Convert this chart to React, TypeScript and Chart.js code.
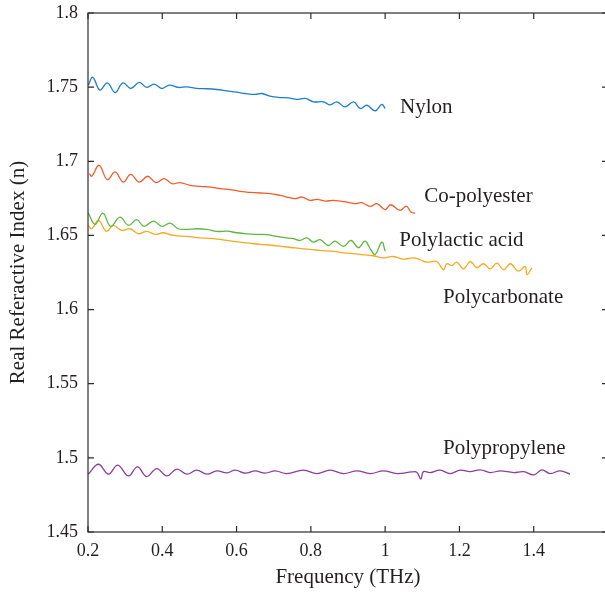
import React, { useEffect, useRef } from "react";
import { Chart, registerables } from "chart.js";

Chart.register(...registerables);

// ---------- data ----------
const nylonX = [0.201, 0.213, 0.232, 0.252, 0.273, 0.294, 0.315, 0.338, 0.358, 0.378, 0.399, 0.419, 0.443, 0.466, 0.493, 0.520, 0.547, 0.574, 0.601, 0.623, 0.650, 0.668, 0.690, 0.717, 0.740, 0.762, 0.785, 0.807, 0.834, 0.852, 0.870, 0.892, 0.915, 0.933, 0.951, 0.973, 0.991, 1.0];
const nylonY = [1.7514, 1.7566, 1.7480, 1.7529, 1.7464, 1.7529, 1.7491, 1.7532, 1.7498, 1.7520, 1.7491, 1.7514, 1.7498, 1.7502, 1.7491, 1.7489, 1.7484, 1.7475, 1.7466, 1.7457, 1.7451, 1.7457, 1.7439, 1.7430, 1.7428, 1.7417, 1.7424, 1.7401, 1.7401, 1.7380, 1.7401, 1.7367, 1.7401, 1.7356, 1.7378, 1.7340, 1.7383, 1.7356];

const copolyX = [0.2035, 0.210, 0.230, 0.252, 0.273, 0.295, 0.315, 0.338, 0.361, 0.383, 0.405, 0.426, 0.448, 0.475, 0.502, 0.529, 0.556, 0.583, 0.609, 0.636, 0.663, 0.690, 0.717, 0.735, 0.758, 0.776, 0.798, 0.816, 0.838, 0.861, 0.897, 0.919, 0.937, 0.960, 0.978, 1.0, 1.015, 1.040, 1.057, 1.070, 1.081];
const copolyY = [1.6917, 1.6899, 1.6973, 1.6876, 1.6928, 1.6860, 1.6912, 1.6860, 1.6899, 1.6856, 1.6883, 1.6849, 1.6856, 1.6838, 1.6831, 1.6826, 1.6816, 1.6809, 1.6797, 1.6791, 1.6786, 1.6782, 1.6770, 1.6759, 1.6748, 1.6759, 1.6736, 1.6743, 1.6732, 1.6736, 1.6725, 1.6714, 1.6721, 1.6696, 1.6714, 1.6674, 1.6707, 1.6669, 1.6698, 1.6657, 1.6651];

const plaX = [0.2008, 0.219, 0.240, 0.261, 0.286, 0.309, 0.331, 0.351, 0.376, 0.399, 0.421, 0.443, 0.466, 0.493, 0.520, 0.547, 0.574, 0.601, 0.628, 0.654, 0.681, 0.708, 0.735, 0.753, 0.771, 0.789, 0.807, 0.825, 0.847, 0.865, 0.888, 0.908, 0.928, 0.946, 0.960, 0.973, 0.991, 1.0];
const plaY = [1.6651, 1.6574, 1.6651, 1.6561, 1.6624, 1.6568, 1.6606, 1.6561, 1.6597, 1.6561, 1.6583, 1.6545, 1.6541, 1.6545, 1.6541, 1.6527, 1.6529, 1.6518, 1.6511, 1.6507, 1.6505, 1.6493, 1.6484, 1.6478, 1.6466, 1.6484, 1.6455, 1.6471, 1.6432, 1.6461, 1.6426, 1.6466, 1.6417, 1.6461, 1.6410, 1.6372, 1.6455, 1.6394];

const pcX = [0.2008, 0.210, 0.228, 0.250, 0.268, 0.291, 0.313, 0.336, 0.358, 0.381, 0.403, 0.430, 0.466, 0.502, 0.538, 0.574, 0.609, 0.645, 0.681, 0.717, 0.753, 0.789, 0.825, 0.861, 0.897, 0.933, 0.969, 0.995, 1.022, 1.049, 1.076, 1.094, 1.112, 1.139, 1.157, 1.166, 1.180, 1.193, 1.211, 1.229, 1.247, 1.265, 1.283, 1.301, 1.319, 1.337, 1.359, 1.377, 1.382, 1.395];
const pcY = [1.6568, 1.6545, 1.6601, 1.6527, 1.6568, 1.6534, 1.6545, 1.6511, 1.6527, 1.6507, 1.6518, 1.6500, 1.6493, 1.6484, 1.6478, 1.6466, 1.6455, 1.6444, 1.6437, 1.6428, 1.6417, 1.6407, 1.6399, 1.6392, 1.6380, 1.6372, 1.6363, 1.6349, 1.6358, 1.6340, 1.6349, 1.6336, 1.6320, 1.6324, 1.6268, 1.6309, 1.6297, 1.6320, 1.6275, 1.6324, 1.6282, 1.6309, 1.6275, 1.6313, 1.6268, 1.6309, 1.6259, 1.6291, 1.6235, 1.6282];

const ppX = [0.2008, 0.228, 0.255, 0.280, 0.309, 0.333, 0.358, 0.385, 0.412, 0.439, 0.466, 0.493, 0.520, 0.547, 0.574, 0.596, 0.623, 0.650, 0.677, 0.704, 0.735, 0.780, 0.816, 0.852, 0.888, 0.924, 0.960, 0.995, 1.032, 1.072, 1.086, 1.096, 1.103, 1.121, 1.148, 1.175, 1.202, 1.229, 1.256, 1.283, 1.310, 1.346, 1.373, 1.400, 1.422, 1.444, 1.471, 1.498];
const ppY = [1.4890, 1.4957, 1.4890, 1.4951, 1.4878, 1.4939, 1.4874, 1.4928, 1.4878, 1.4924, 1.4890, 1.4917, 1.4890, 1.4912, 1.4899, 1.4917, 1.4897, 1.4912, 1.4897, 1.4912, 1.4894, 1.4917, 1.4894, 1.4917, 1.4894, 1.4912, 1.4894, 1.4912, 1.4894, 1.4905, 1.4902, 1.4856, 1.4907, 1.4901, 1.4917, 1.4894, 1.4917, 1.4907, 1.4919, 1.4901, 1.4912, 1.4901, 1.4907, 1.4885, 1.4919, 1.4894, 1.4912, 1.4890];

const seriesNames = ["Nylon", "Co-polyester", "Polylactic acid", "Polycarbonate", "Polypropylene"];
const seriesColors = ["#1b7fcc", "#f45b2a", "#5cb83c", "#f8a91f", "#8f3c9f"];
const labelX = [1.04, 1.105, 1.038, 1.156, 1.156];
const labelY = [1.7365, 1.6764, 1.6466, 1.6081, 1.5061];

const xTicks = [0.2, 0.4, 0.6, 0.8, 1, 1.2, 1.4, 1.6];
const yTicks = [1.45, 1.5, 1.55, 1.6, 1.65, 1.7, 1.75, 1.8];

const FONT = "'Liberation Serif', 'Times New Roman', serif";
const INK = "#231f20";

const pairs = (xs: number[], ys: number[]) => xs.map((x, i) => ({ x, y: ys[i] }));

const boxPlugin = {
  id: "boxTicks",
  afterDatasetsDraw(chart: any) {
    const { ctx, chartArea: a, scales } = chart;
    const xs = scales.x;
    const ys = scales.y;
    ctx.save();
    ctx.strokeStyle = "#2b2b2b";
    ctx.lineWidth = 1.2;
    ctx.strokeRect(a.left, a.top, a.right - a.left, a.bottom - a.top);
    const L = 6;
    ctx.beginPath();
    xTicks.forEach((v) => {
      const p = xs.getPixelForValue(v);
      ctx.moveTo(p, a.bottom);
      ctx.lineTo(p, a.bottom - L);
      ctx.moveTo(p, a.top);
      ctx.lineTo(p, a.top + L);
    });
    yTicks.forEach((v) => {
      const p = ys.getPixelForValue(v);
      ctx.moveTo(a.left, p);
      ctx.lineTo(a.left + L, p);
      ctx.moveTo(a.right, p);
      ctx.lineTo(a.right - L, p);
    });
    ctx.stroke();
    ctx.fillStyle = INK;
    ctx.font = `21px ${FONT}`;
    ctx.textAlign = "left";
    ctx.textBaseline = "middle";
    seriesNames.forEach((n, i) => {
      ctx.fillText(n, xs.getPixelForValue(labelX[i]), ys.getPixelForValue(labelY[i]));
    });
    ctx.restore();
  },
};

export default function App() {
  const ref = useRef<HTMLCanvasElement | null>(null);
  useEffect(() => {
    if (!ref.current) return;
    const sets = [
      pairs(nylonX, nylonY),
      pairs(copolyX, copolyY),
      pairs(plaX, plaY),
      pairs(pcX, pcY),
      pairs(ppX, ppY),
    ];
    const chart = new Chart(ref.current, {
      type: "line",
      data: {
        datasets: sets.map((d, i) => ({
          label: seriesNames[i],
          data: d,
          borderColor: seriesColors[i],
          borderWidth: 1.3,
          pointRadius: 0,
          tension: 0.4,
          fill: false,
        })),
      },
      options: {
        animation: false,
        responsive: false,
        parsing: false as any,
        layout: { padding: { top: 13, right: 12, left: 0, bottom: 0 } },
        plugins: { legend: { display: false }, tooltip: { enabled: false } },
        scales: {
          x: {
            type: "linear",
            min: 0.2,
            max: 1.6,
            afterFit: (s: any) => { s.height = 61; s.paddingLeft = 0; s.paddingRight = 0; },
            afterBuildTicks: (s: any) => { s.ticks = xTicks.map((v) => ({ value: v })); },
            grid: { display: false, drawTicks: false },
            border: { display: false },
            ticks: {
              padding: 8,
              maxRotation: 0,
              autoSkip: false,
              color: INK,
              font: { family: FONT, size: 18 },
              callback: (v: any) => (Number(v) > 1.5 ? "" : String(Math.round(Number(v) * 10) / 10)),
            },
            title: {
              display: true,
              text: "Frequency (THz)",
              color: INK,
              font: { family: FONT, size: 21 },
              padding: { top: 0, bottom: 3 },
            },
          },
          y: {
            type: "linear",
            min: 1.45,
            max: 1.8,
            afterFit: (s: any) => { s.width = 88; s.paddingTop = 0; s.paddingBottom = 0; },
            afterBuildTicks: (s: any) => { s.ticks = yTicks.map((v) => ({ value: v })); },
            grid: { display: false, drawTicks: false },
            border: { display: false },
            ticks: {
              padding: 10,
              autoSkip: false,
              color: INK,
              font: { family: FONT, size: 18 },
              callback: (v: any) => String(Math.round(Number(v) * 100) / 100),
            },
            title: {
              display: true,
              text: "Real Referactive Index (n)",
              color: INK,
              font: { family: FONT, size: 21 },
              padding: { top: 6, bottom: 0 },
            },
          },
        },
      },
      plugins: [boxPlugin],
    });
    return () => chart.destroy();
  }, []);
  return (
    <div style={{ position: "fixed", left: 0, top: 0, width: 620, height: 593, background: "#fff" }}>
      <canvas ref={ref} width={620} height={593} style={{ width: 620, height: 593, display: "block" }} />
    </div>
  );
}
